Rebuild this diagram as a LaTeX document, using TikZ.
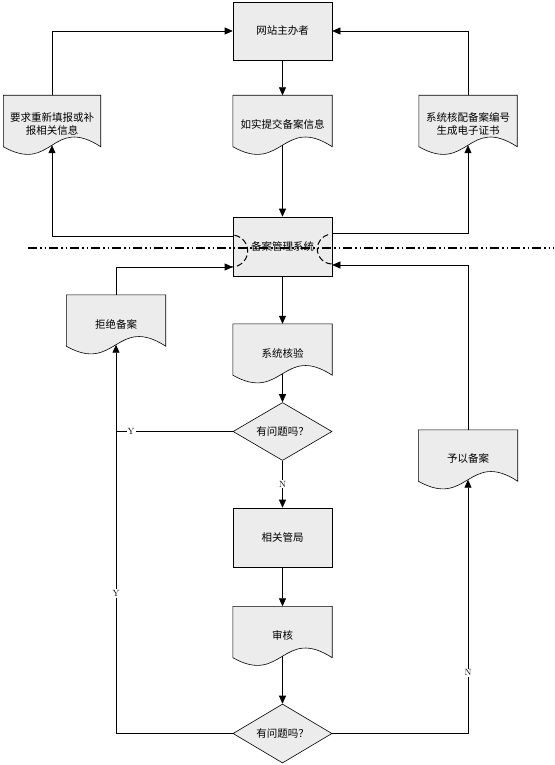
\documentclass[tikz,border=0pt]{standalone}
\usepackage{fontspec}
\newfontfamily\cjk{Noto Sans CJK SC}
\usetikzlibrary{arrows.meta,shapes.geometric,backgrounds}
\definecolor{huise}{RGB}{236,236,236}
\tikzset{
  kuang/.style={draw, fill=huise, line width=0.6pt, minimum width=99pt,
    minimum height=59pt, inner sep=1pt, font=\cjk\fontsize{10.5}{13}\selectfont},
  wendang/.style={minimum width=99pt, minimum height=58pt, inner sep=1pt,
    align=center, font=\cjk\fontsize{10.5}{13}\selectfont},
  panduan/.style={diamond, draw, fill=huise, line width=0.6pt, aspect=1.7,
    minimum width=99pt, minimum height=58pt, inner sep=0pt,
    font=\cjk\fontsize{10.5}{13}\selectfont},
  jiantou/.style={-{Triangle[length=8pt,width=7pt]}, line width=0.6pt},
  biaoqian/.style={fill=white, inner sep=1pt, font=\fontsize{9}{10}\selectfont},
  huan/.style={line width=1pt, dash pattern=on 6pt off 3pt},
  fenge/.style={line width=1.3pt, dash pattern=on 9pt off 3pt on 1.5pt off 3pt on 1.5pt off 3pt}
}
\begin{document}
\begin{tikzpicture}[x=1pt, y=-1pt]
  \useasboundingbox (0,0) rectangle (554,765);
  % 方框
  \node[kuang, minimum height=58pt] (zhuban) at (282.5,31) {网站主办者};
  \node[kuang] (guanli) at (282.5,246.5) {备案管理系统};
  \node[kuang] (guanju) at (282.5,537.5) {相关管局};
  % 文档
  \node[wendang] (tijiao) at (282.5,124.5) {如实提交备案信息};
  \node[wendang, minimum width=97pt] (yaoqiu) at (52,124.5) {要求重新填报或补\\报相关信息};
  \node[wendang, minimum width=98pt] (heipei) at (468,124.5) {系统核配备案编号\\生成电子证书};
  \node[wendang] (jujue) at (116,324) {拒绝备案};
  \node[wendang] (heyan) at (282.5,353) {系统核验};
  \node[wendang] (yuyi) at (468,459) {予以备案};
  \node[wendang] (shenhe) at (282.5,635.5) {审核};
  % 判断
  \node[panduan] (pd1) at (282.5,431.5) {有问题吗？};
  \node[panduan, minimum height=59pt] (pd2) at (282.5,733.5) {有问题吗？};
  % 文档外形(波浪底边)
  \begin{scope}[on background layer]
    \foreach \d in {tijiao,yaoqiu,heipei,jujue,heyan,yuyi,shenhe}
      \draw[fill=huise, line width=0.6pt]
        (\d.north west) -- (\d.north east) -- ([yshift=7pt]\d.south east)
        .. controls +(-49.5,-32) and +(49.5,28) .. ([yshift=7pt]\d.south west) -- cycle;
  \end{scope}
  % 主流程
  \draw[jiantou] (zhuban) -- (tijiao);
  \draw[jiantou] ([yshift=8.5pt]tijiao.south) -- (guanli);
  \draw[jiantou] (guanli) -- (heyan);
  \draw[jiantou] ([yshift=8.5pt]heyan.south) -- (pd1);
  \draw[jiantou] (pd1) -- node[biaoqian]{N} (guanju);
  \draw[jiantou] (guanju) -- (shenhe);
  \draw[jiantou] ([yshift=8.5pt]shenhe.south) -- (pd2);
  % 上部回路
  \draw[jiantou] ([yshift=10.5pt]guanli.west) -| ([yshift=8.5pt]yaoqiu.south);
  \draw[jiantou] (yaoqiu.north) |- (zhuban.west);
  \draw[jiantou] ([yshift=13.5pt]guanli.east) -| ([yshift=8.5pt]heipei.south);
  \draw[jiantou] (heipei.north) |- (zhuban.east);
  % 下部回路
  \draw[jiantou] (jujue.north) |- ([yshift=-20.5pt]guanli.west);
  \draw[jiantou] (yuyi.north) |- ([yshift=-18.5pt]guanli.east);
  \draw[line width=0.6pt] (pd1.west) -- node[biaoqian, pos=0.87]{Y} (pd1.west -| jujue.south);
  \draw[jiantou] (pd2.west) -| node[biaoqian, pos=0.68]{Y} ([yshift=8.5pt]jujue.south);
  \draw[jiantou] (pd2.east) -| node[biaoqian, pos=0.62]{N} ([yshift=8.5pt]yuyi.south);
  % 虚线圆弧与分界线
  \draw[huan] (guanli.west) ++(-1,4.5) ++(-80:16) arc[start angle=-80, end angle=105, radius=16];
  \draw[huan] (guanli.east) ++(0,2.5) ++(93:15) arc[start angle=93, end angle=255, radius=15];
  \draw[fenge] (28,248) -- (554,248);
\end{tikzpicture}
\end{document}
